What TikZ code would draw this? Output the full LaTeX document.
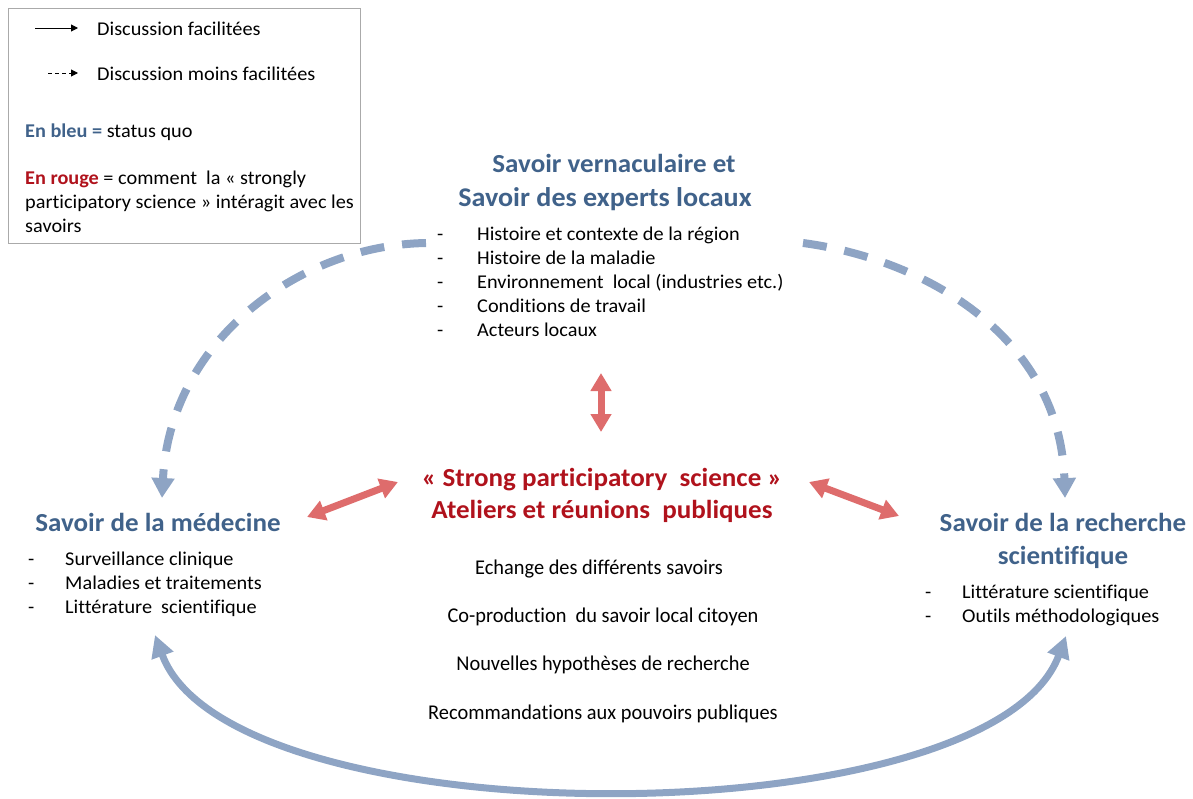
\documentclass[tikz,border=0pt]{standalone}
\usepackage{fontspec}
\setmainfont{Carlito}[FakeStretch=1.04,Ligatures=NoCommon]
\newfontfamily\condfont[FakeStretch=0.97,Ligatures=NoCommon]{Carlito}
\usetikzlibrary{arrows.meta}
\definecolor{tblue}{RGB}{64,98,138}
\definecolor{ablue}{RGB}{142,164,196}
\definecolor{ared}{RGB}{222,108,108}
\definecolor{tred}{RGB}{176,18,28}
\definecolor{lgray}{RGB}{170,170,170}
\begin{document}
\begin{tikzpicture}[x=1pt,y=-1pt,
  txt/.style={font=\fontsize{19.5}{23}\selectfont, inner sep=0pt, anchor=base west},
  ctxt/.style={font=\condfont\fontsize{21}{25}\selectfont, inner sep=0pt, anchor=base},
  ttl/.style={font=\fontsize{26}{31}\bfseries\selectfont, text=tblue, inner sep=0pt, anchor=base},
  rttl/.style={font=\fontsize{26}{31}\bfseries\selectfont, text=tred, inner sep=0pt, anchor=base},
  dashblue/.style={draw=ablue, line width=8pt, dash pattern=on 24pt off 18pt, -{Triangle[length=20pt,width=22pt]}},
  solidblue/.style={draw=ablue, line width=7pt, {Triangle[length=22pt,width=22pt]}-{Triangle[length=22pt,width=22pt]}},
  redarrow/.style={draw=ared, line width=7pt, {Triangle[length=18pt,width=20pt]}-{Triangle[length=18pt,width=20pt]}}
]
\useasboundingbox (0,0) rectangle (1193,798);

% legend
\node (legend) [draw=lgray, line width=0.8pt, minimum width=352pt, minimum height=235pt, anchor=north west, inner sep=0pt] at (8,8) {};
\coordinate (la1) at (35,28); \coordinate (lb1) at (78,28);
\coordinate (la2) at (48,73); \coordinate (lb2) at (78,73);
\draw[line width=1pt, -{Triangle[length=7pt,width=7pt]}] (la1) -- (lb1);
\draw[line width=1pt, dash pattern=on 4pt off 3pt, -{Triangle[length=7pt,width=7pt]}] (la2) -- (lb2);
\node (lg1) [txt] at (97,35) {Discussion facilitées};
\node (lg2) [txt] at (97,80) {Discussion moins facilitées};
\node (lg3) [txt] at (25,137) {\textcolor{tblue}{\bfseries En bleu =} status quo};
\node (lg4) [txt] at (25,184) {\textcolor{tred}{\bfseries En rouge} = comment\ \ la « strongly};
\node (lg5) [txt] at (25,208) {participatory science » intéragit avec les};
\node (lg6) [txt] at (25,232) {savoirs};

% top node
\node (vt1) [ttl] at (614,172) {Savoir vernaculaire et};
\node (vt2) [ttl, font=\fontsize{27}{31}\bfseries\selectfont] at (605,206) {Savoir des experts locaux};
\foreach \t [count=\i] in {Histoire et contexte de la région, Histoire de la maladie, Environnement\ \ local (industries etc.), Conditions de travail, Acteurs locaux}{
  \node (vd\i) [txt] at (437,216+24*\i) {-};
  \node (vl\i) [txt] at (477,216+24*\i) {\t};
}

% medicine
\node (mt) [ttl] at (158,531) {Savoir de la médecine};
\foreach \t [count=\i] in {Surveillance clinique, Maladies et traitements, Littérature\ \ scientifique}{
  \node (md\i) [txt] at (28,541+24*\i) {-};
  \node (ml\i) [txt] at (65,541+24*\i) {\t};
}

% research
\node (rt1) [ttl] at (1063,531) {Savoir de la recherche};
\node (rt2) [ttl] at (1063,564) {scientifique};
\foreach \t [count=\i] in {Littérature scientifique, Outils méthodologiques}{
  \node (rd\i) [txt] at (925,574+24*\i) {-};
  \node (rl\i) [txt] at (962,574+24*\i) {\t};
}

% center
\node (ct1) [rttl] at (602,486) {« Strong participatory\ \ science »};
\node (ct2) [rttl] at (602,518) {Ateliers et réunions\ \ publiques};
\node (c1) [ctxt] at (599,574) {Echange des différents savoirs};
\node (c2) [ctxt] at (603,622) {Co-production\ \ du savoir local citoyen};
\node (c3) [ctxt] at (603,670) {Nouvelles hypothèses de recherche};
\node (c4) [ctxt] at (603,719) {Recommandations aux pouvoirs publiques};

% blue connectors
\coordinate (medTop) at (162,498);
\coordinate (verL) at (426,243);
\coordinate (verR) at (803,243);
\coordinate (resTop) at (1065,498);
\coordinate (medBot) at (155,635);
\coordinate (resBot) at (1066,636);
\draw[dashblue] (verL) .. controls (300,245) and (170,340) .. (medTop);
\draw[dashblue] (verR) .. controls (930,260) and (1060,340) .. (resTop);
\draw[solidblue] (medBot) .. controls (230,840) and (990,840) .. (resBot);

% red connectors
\coordinate (rv1) at (601,373);
\coordinate (rv2) at (601,432);
\coordinate (rl1) at (307,517);
\coordinate (rl2) at (398,482);
\coordinate (rr1) at (809,482);
\coordinate (rr2) at (899,516);
\draw[redarrow] (rv1) -- (rv2);
\draw[redarrow] (rl1) -- (rl2);
\draw[redarrow] (rr1) -- (rr2);
\end{tikzpicture}
\end{document}
